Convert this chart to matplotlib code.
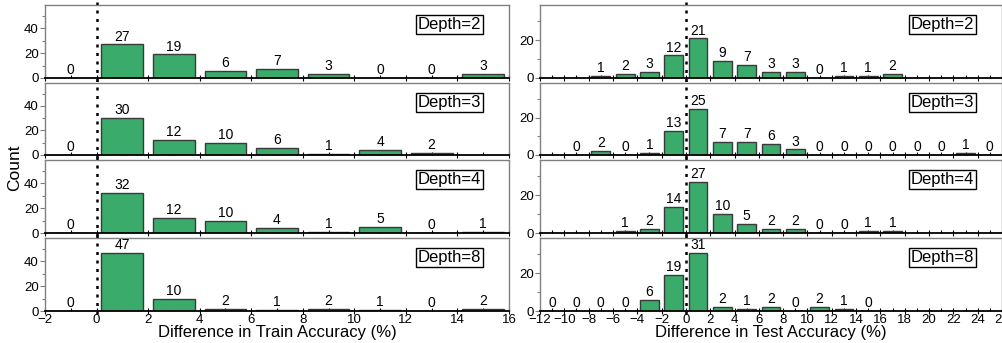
import matplotlib

matplotlib.use("Agg")

import matplotlib.pyplot as plt
import numpy as np
from matplotlib.ticker import MultipleLocator

# ---- data (counts per 2%-wide bin, None = no bin shown) ----
depths = [2, 3, 4, 8]

train_centers = [-1, 1, 3, 5, 7, 9, 11, 13, 15]
train_counts = {
    2: [0, 27, 19, 6, 7, 3, 0, 0, 3],
    3: [0, 30, 12, 10, 6, 1, 4, 2, None],
    4: [0, 32, 12, 10, 4, 1, 5, 0, 1],
    8: [0, 47, 10, 2, 1, 2, 1, 0, 2],
}

test_centers = [-11, -9, -7, -5, -3, -1, 1, 3, 5, 7, 9, 11, 13, 15, 17, 19, 21, 23, 25]
test_counts = {
    2: [None, None, 1, 2, 3, 12, 21, 9, 7, 3, 3, 0, 1, 1, 2, None, None, None, None],
    3: [None, 0, 2, 0, 1, 13, 25, 7, 7, 6, 3, 0, 0, 0, 0, 0, 0, 1, 0],
    4: [None, None, None, 1, 2, 14, 27, 10, 5, 2, 2, 0, 0, 1, 1, None, None, None, None],
    8: [0, 0, 0, 0, 6, 19, 31, 2, 1, 2, 0, 2, 1, 0, None, None, None, None, None],
}

BAR_COLOR = "#3aab6b"
EDGE_COLOR = "#3a3a3a"
SPINE_GRAY = "#808080"

plt.rcParams.update(
    {
        "font.family": ["Liberation Sans", "DejaVu Sans"],
        "font.size": 9.5,
    }
)

W, H = 1003, 343
fig = plt.figure(figsize=(W / 100, H / 100), dpi=100)

panel_px = [(5, 78), (83, 155), (160, 233), (238, 311)]
col_px = [(45, 509), (540, 1002)]


def make_ax(col, row):
    x0, x1 = col_px[col]
    y0, y1 = panel_px[row]
    return fig.add_axes([x0 / W, 1 - y1 / H, (x1 - x0) / W, (y1 - y0) / H])


def draw_panel(ax, centers, counts, width, ymax, xlim, depth, last):
    c = np.array([x for x, v in zip(centers, counts) if v is not None], dtype=float)
    v = np.array([v for v in counts if v is not None], dtype=float)
    ax.bar(c, v, width=width, color=BAR_COLOR, edgecolor=EDGE_COLOR, linewidth=1.0, zorder=2)
    for xi, vi in zip(c, v):
        ax.text(xi, vi + ymax * 0.012, f"{int(vi)}", ha="center", va="bottom", fontsize=10, zorder=3)
    ax.set_xlim(*xlim)
    ax.set_ylim(0, ymax)
    ax.axvline(0, color="black", linestyle=(0, (1.2, 2.2)), linewidth=1.8, zorder=4,
               ymin=-0.04, ymax=1.04, clip_on=False)

    ax.xaxis.set_major_locator(MultipleLocator(2))
    ax.xaxis.set_minor_locator(MultipleLocator(1))
    ax.yaxis.set_major_locator(MultipleLocator(20))
    ax.yaxis.set_minor_locator(MultipleLocator(10))
    ax.tick_params(axis="x", which="major", direction="inout", length=5, width=0.8, labelsize=9.5, pad=0)
    ax.tick_params(axis="x", which="minor", direction="in", length=2.5, width=0.8)
    ax.tick_params(axis="y", which="major", direction="out", length=3.5, width=0.8,
                   labelsize=9.5, pad=1, color=SPINE_GRAY)
    ax.tick_params(axis="y", which="minor", direction="out", length=2, width=0.8, color=SPINE_GRAY)
    if not last:
        ax.tick_params(axis="x", which="both", labelbottom=False)

    for side in ("left", "right", "top"):
        ax.spines[side].set_color(SPINE_GRAY)
        ax.spines[side].set_linewidth(1.0)
    ax.spines["bottom"].set_color("black")
    ax.spines["bottom"].set_linewidth(1.3)

    ax.text(0.94, 0.73, f"Depth={depth}", transform=ax.transAxes, ha="right", va="center",
            fontsize=12, zorder=5,
            bbox=dict(boxstyle="square,pad=0.12", facecolor="white", edgecolor="black", linewidth=1.0))


for row, d in enumerate(depths):
    last = row == len(depths) - 1
    axl = make_ax(0, row)
    draw_panel(axl, train_centers, train_counts[d], 1.62, 58.75, (-2, 16), d, last)
    axr = make_ax(1, row)
    draw_panel(axr, test_centers, test_counts[d], 1.55, 38.75, (-12, 26), d, last)
    if last:
        axl.set_xlabel("Difference in Train Accuracy (%)", fontsize=12, labelpad=-1)
        axr.set_xlabel("Difference in Test Accuracy (%)", fontsize=12, labelpad=-1)

fig.text(15 / W, 1 - 168 / H, "Count", rotation=90, ha="center", va="center", fontsize=12.5)

fig.savefig("out.png", dpi=100)
plt.close(fig)
